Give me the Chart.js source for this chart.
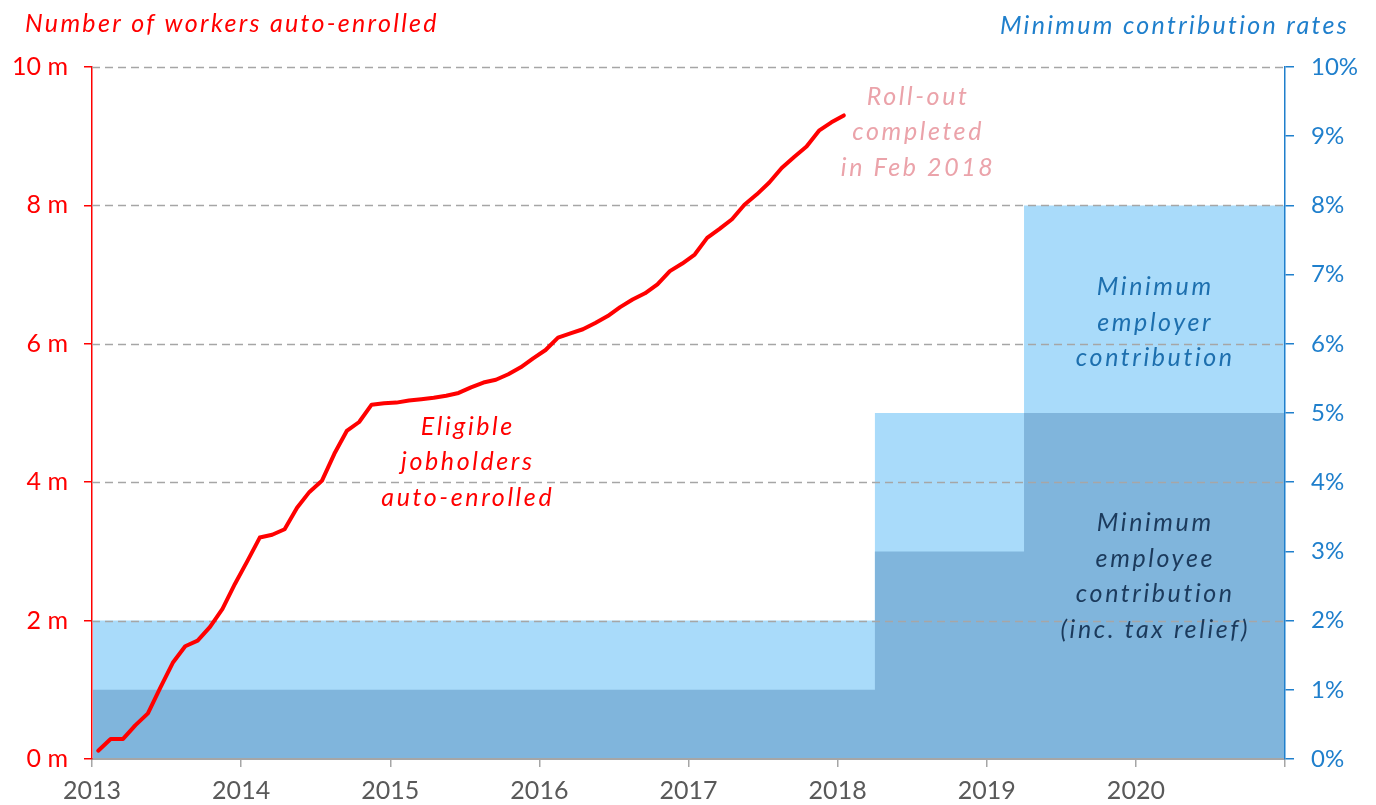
<!DOCTYPE html>
<html>
<head>
<meta charset="utf-8">
<script src="https://cdn.jsdelivr.net/npm/chart.js@4.4.1/dist/chart.umd.min.js"></script>
<style>
  html, body { margin: 0; padding: 0; background: #fff; }
  #wrap { width: 1376px; height: 805px; }
</style>
</head>
<body>
<div id="wrap"><canvas id="chart" width="1376" height="805"></canvas></div>
<script>
// Workers auto-enrolled (millions), one value per month from Jan 2013 to Jan 2018
const firstMonth = 2013;
const enrolled = [
  0.12, 0.29, 0.29, 0.49, 0.66, 1.03, 1.39, 1.63, 1.71, 1.91, 2.17, 2.53,
  2.86, 3.20, 3.24, 3.32, 3.63, 3.86, 4.02, 4.41, 4.74, 4.87, 5.12, 5.14,
  5.15, 5.18, 5.20, 5.22, 5.25, 5.29, 5.37, 5.44, 5.48, 5.56, 5.66, 5.79,
  5.91, 6.09, 6.15, 6.21, 6.30, 6.40, 6.53, 6.64, 6.73, 6.86, 7.05, 7.16,
  7.29, 7.53, 7.66, 7.80, 8.01, 8.16, 8.33, 8.54, 8.70, 8.85, 9.08, 9.20,
  9.30
];

// Minimum contribution rates (%), stepping up in April 2018 and April 2019
const rateDates = [2013, 2018.25, 2019.25, 2021];
const employeeRate = [1, 3, 5];
const employerRate = [1, 2, 3];

const yearTicks = [2013, 2014, 2015, 2016, 2017, 2018, 2019, 2020];

const FONT = 'Lato, "Noto Sans", sans-serif';
const RED = '#ff0000';
const BLUE = '#1f7fcc';
const GREY = '#a6a6a6';

const linePoints = enrolled.map((v, i) => ({ x: firstMonth + (i + 0.5) / 12, y: v }));

// each rate holds from its start date to the next one
function steps(rates) {
  const pts = [];
  rates.forEach((r, i) => {
    pts.push({ x: rateDates[i], y: r });
    pts.push({ x: rateDates[i + 1], y: r });
  });
  return pts;
}
const employeePoints = steps(employeeRate);
const totalPoints = steps(employeeRate.map((r, i) => r + employerRate[i]));

// text notes, anchored in data units (x = year, y = left axis value of first line)
const notes = [
  { lines: ['Eligible', 'jobholders', 'auto-enrolled'], x: 2015.52, y: 4.80, color: RED },
  { lines: ['Roll-out', 'completed', 'in Feb 2018'], x: 2018.54, y: 9.57, color: '#eba3aa' },
  { lines: ['Minimum', 'employer', 'contribution'], x: 2020.13, y: 6.82, color: '#1d6fae' },
  { lines: ['Minimum', 'employee', 'contribution', '(inc. tax relief)'], x: 2020.13, y: 3.41, color: '#1b3a5c' }
];

// dashed grid drawn over the shaded areas but under the red line
const gridOverFill = {
  id: 'gridOverFill',
  beforeDatasetDraw(chart, args) {
    if (args.index !== 0) return;
    const { ctx, chartArea: a, scales: { yL } } = chart;
    ctx.save();
    ctx.strokeStyle = GREY;
    ctx.lineWidth = 1.5;
    ctx.setLineDash([8, 5]);
    yL.ticks.forEach(t => {
      if (t.value === 0) return;
      const y = Math.round(yL.getPixelForValue(t.value)) + 0.5;
      ctx.beginPath();
      ctx.moveTo(a.left, y);
      ctx.lineTo(a.right, y);
      ctx.stroke();
    });
    ctx.restore();
  }
};

const textNotes = {
  id: 'textNotes',
  afterDatasetsDraw(chart) {
    const { ctx, scales: { x, yL } } = chart;
    ctx.save();
    ctx.textBaseline = 'middle';
    ctx.textAlign = 'center';
    ctx.font = 'italic 25px ' + FONT;
    ctx.letterSpacing = '2.6px';
    notes.forEach(n => {
      const px = x.getPixelForValue(n.x);
      const py = yL.getPixelForValue(n.y);
      ctx.fillStyle = n.color;
      n.lines.forEach((line, i) => ctx.fillText(line, px, py + i * 35.5));
    });
    // axis titles
    ctx.letterSpacing = '2.3px';
    ctx.textAlign = 'left';
    ctx.fillStyle = RED;
    ctx.fillText('Number of workers auto-enrolled', 25, 24);
    ctx.textAlign = 'right';
    ctx.fillStyle = BLUE;
    ctx.fillText('Minimum contribution rates', 1349, 26);
    ctx.restore();
  }
};

new Chart(document.getElementById('chart'), {
  type: 'line',
  data: {
    datasets: [
      {
        label: 'Eligible jobholders auto-enrolled',
        data: linePoints,
        yAxisID: 'yL',
        borderColor: RED,
        borderWidth: 4,
        borderCapStyle: 'round',
        borderJoinStyle: 'round',
        pointRadius: 0,
        tension: 0,
        fill: false
      },
      {
        label: 'Minimum employee contribution',
        data: employeePoints,
        yAxisID: 'yR',
        borderWidth: 0,
        pointRadius: 0,
        backgroundColor: '#80b5dc',
        fill: 'origin',
        clip: { left: -1, top: 0, right: -1, bottom: -1 }
      },
      {
        label: 'Minimum employer contribution',
        data: totalPoints,
        yAxisID: 'yR',
        borderWidth: 0,
        pointRadius: 0,
        backgroundColor: '#a9dbfa',
        fill: 'origin',
        clip: { left: -1, top: 0, right: -1, bottom: -1 }
      }
    ]
  },
  options: {
    responsive: false,
    animation: false,
    devicePixelRatio: 1,
    layout: { padding: { top: 67, left: 0, right: 0, bottom: 0 } },
    plugins: {
      legend: { display: false },
      tooltip: { enabled: false }
    },
    scales: {
      x: {
        type: 'linear',
        min: 2013,
        max: 2021,
        afterBuildTicks: s => { s.ticks = yearTicks.concat([2021]).map(v => ({ value: v })); },
        ticks: {
          callback: v => (yearTicks.includes(v) ? String(v) : ''),
          color: '#595959',
          font: { family: FONT, size: 25 },
          padding: 9,
          maxRotation: 0
        },
        grid: { drawOnChartArea: false, tickLength: 8, color: GREY, lineWidth: 1.5 },
        border: { color: GREY, width: 2 },
        afterFit: s => { s.height = 46; }
      },
      yL: {
        position: 'left',
        min: 0,
        max: 10,
        ticks: {
          stepSize: 2,
          callback: v => v + ' m',
          color: RED,
          font: { family: FONT, size: 25 },
          padding: 16
        },
        grid: { drawOnChartArea: false, tickLength: 8, color: RED, lineWidth: 1.5 },
        border: { color: RED, width: 1.5 },
        afterFit: s => { s.width = 92; }
      },
      yR: {
        position: 'right',
        min: 0,
        max: 10,
        ticks: {
          stepSize: 1,
          callback: v => v + '%',
          color: BLUE,
          font: { family: FONT, size: 24 },
          padding: 17
        },
        grid: { drawOnChartArea: false, tickLength: 9, color: BLUE, lineWidth: 1.5 },
        border: { color: BLUE, width: 1.5 },
        afterFit: s => { s.width = 91; }
      }
    }
  },
  plugins: [gridOverFill, textNotes]
});
</script>
</body>
</html>
